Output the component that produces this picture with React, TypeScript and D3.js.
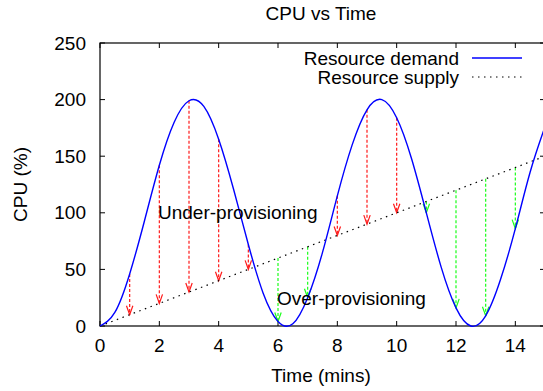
import * as React from 'react';
import * as d3 from 'd3';

const demandTimes = [0, 0.5, 1, 1.5, 2, 2.5, 3, 3.5, 4, 4.5, 5, 5.5, 6, 6.5, 7, 7.5, 8, 8.5, 9, 9.5, 10, 10.5, 11, 11.5, 12, 12.5, 13, 13.5, 14, 14.5, 15];
const demandValues = [0, 12, 46, 93, 142, 180, 199, 194, 165, 121, 72, 29, 4, 2, 25, 65, 115, 160, 191, 200, 184, 148, 100, 52, 16, 0, 9, 41, 86, 136, 176];

const supplyTimes = [0, 15];
const supplyValues = [0, 150];

// arrows between demand and supply, once a minute
const arrowTimes = [1, 2, 3, 4, 5, 6, 7, 8, 9, 10, 11, 12, 13, 14];
const arrowDemand = [46, 142, 199, 165, 72, 4, 25, 115, 191, 184, 100, 16, 9, 86];
const arrowSupply = [10, 20, 30, 40, 50, 60, 70, 80, 90, 100, 110, 120, 130, 140];

const xTicks = [0, 2, 4, 6, 8, 10, 12, 14];
const yTicks = [0, 50, 100, 150, 200, 250];

const W = 543;
const H = 391;
const margin = { left: 100, right: -2, top: 43, bottom: 65 };
const FONT = '"Liberation Sans", Arial, sans-serif';
const FS = 19;

export default function App() {
  const ref = React.useRef<SVGSVGElement>(null);

  React.useEffect(() => {
    const svg = d3.select(ref.current);
    svg.selectAll('*').remove();

    const x = d3.scaleLinear().domain([0, 15]).range([margin.left, W - margin.right]);
    const y = d3.scaleLinear().domain([0, 250]).range([H - margin.bottom, margin.top]);
    const x0 = x.range()[0], x1 = x.range()[1];
    const y0 = y.range()[0], y1 = y.range()[1];

    const g = svg.append('g');

    // frame
    g.append('rect')
      .attr('x', x0).attr('y', y1)
      .attr('width', x1 - x0).attr('height', y0 - y1)
      .attr('fill', 'none').attr('stroke', '#000').attr('stroke-width', 1.2);

    // ticks, mirrored on all sides
    xTicks.forEach(t => {
      g.append('line').attr('x1', x(t)).attr('x2', x(t)).attr('y1', y0).attr('y2', y0 - 5).attr('stroke', '#000');
      g.append('line').attr('x1', x(t)).attr('x2', x(t)).attr('y1', y1).attr('y2', y1 + 5).attr('stroke', '#000');
      g.append('text').attr('x', x(t)).attr('y', y0 + 26)
        .attr('text-anchor', 'middle').attr('font-family', FONT).attr('font-size', FS).text(t);
    });
    yTicks.forEach(t => {
      g.append('line').attr('x1', x0).attr('x2', x0 + 5).attr('y1', y(t)).attr('y2', y(t)).attr('stroke', '#000');
      g.append('line').attr('x1', x1).attr('x2', x1 - 5).attr('y1', y(t)).attr('y2', y(t)).attr('stroke', '#000');
      g.append('text').attr('x', x0 - 14).attr('y', y(t)).attr('dy', '0.35em')
        .attr('text-anchor', 'end').attr('font-family', FONT).attr('font-size', FS).text(t);
    });

    // titles
    g.append('text').attr('x', 321).attr('y', 20).attr('text-anchor', 'middle')
      .attr('font-family', FONT).attr('font-size', FS).text('CPU vs Time');
    g.append('text').attr('x', 321).attr('y', 382).attr('text-anchor', 'middle')
      .attr('font-family', FONT).attr('font-size', FS).text('Time (mins)');
    g.append('text').attr('transform', `translate(27,${(y0 + y1) / 2}) rotate(-90)`)
      .attr('text-anchor', 'middle').attr('font-family', FONT).attr('font-size', FS).text('CPU (%)');

    // arrows
    arrowTimes.forEach((t, i) => {
      const d = arrowDemand[i], s = arrowSupply[i];
      const col = d > s ? '#ff1a1a' : '#1aff1a';
      const top = y(Math.max(d, s)), bot = y(Math.min(d, s));
      const xx = x(t);
      g.append('line').attr('x1', xx).attr('x2', xx).attr('y1', top).attr('y2', bot)
        .attr('stroke', col).attr('stroke-width', 1.2).attr('stroke-dasharray', '3,2');
      const len = Math.min(9, bot - top);
      g.append('path')
        .attr('d', `M${xx - 3.2},${bot - len}L${xx},${bot}L${xx + 3.2},${bot - len}`)
        .attr('fill', 'none').attr('stroke', col).attr('stroke-width', 1.2);
    });

    // supply
    const line = d3.line<[number, number]>().x(d => x(d[0])).y(d => y(d[1]));
    g.append('path')
      .attr('d', line(supplyTimes.map((t, i) => [t, supplyValues[i]] as [number, number])))
      .attr('fill', 'none').attr('stroke', '#000').attr('stroke-width', 1.2)
      .attr('stroke-dasharray', '1.5,4.5');

    // demand
    const curve = d3.line<[number, number]>().x(d => x(d[0])).y(d => y(d[1])).curve(d3.curveNatural);
    g.append('path')
      .attr('d', curve(demandTimes.map((t, i) => [t, demandValues[i]] as [number, number])))
      .attr('fill', 'none').attr('stroke', '#0000ff').attr('stroke-width', 1.4);

    // annotations
    g.append('text').attr('x', 158).attr('y', y(100)).attr('dy', '0.35em')
      .attr('font-family', FONT).attr('font-size', FS).text('Under-provisioning');
    g.append('text').attr('x', 277).attr('y', y(24)).attr('dy', '0.35em')
      .attr('font-family', FONT).attr('font-size', FS).text('Over-provisioning');

    // legend
    const lx = 459;
    g.append('text').attr('x', lx).attr('y', 58).attr('dy', '0.35em').attr('text-anchor', 'end')
      .attr('font-family', FONT).attr('font-size', FS).text('Resource demand');
    g.append('line').attr('x1', 472).attr('x2', 522).attr('y1', 58).attr('y2', 58)
      .attr('stroke', '#0000ff').attr('stroke-width', 1.4);
    g.append('text').attr('x', lx).attr('y', 77).attr('dy', '0.35em').attr('text-anchor', 'end')
      .attr('font-family', FONT).attr('font-size', FS).text('Resource supply');
    g.append('line').attr('x1', 472).attr('x2', 522).attr('y1', 77).attr('y2', 77)
      .attr('stroke', '#000').attr('stroke-width', 1.2).attr('stroke-dasharray', '1.5,4.5');
  }, []);

  return (
    <svg ref={ref} width={W} height={H}
      style={{ position: 'absolute', left: 0, top: 0, background: '#fff' }} />
  );
}
